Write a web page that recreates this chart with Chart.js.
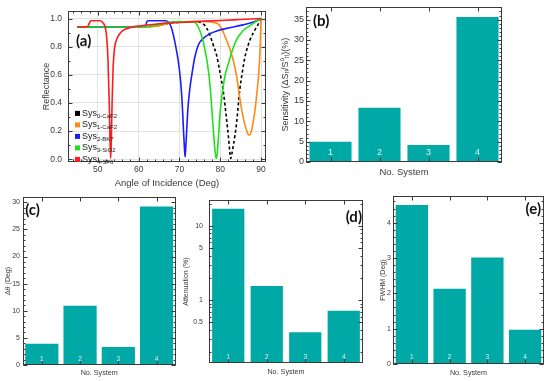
<!DOCTYPE html>
<html>
<head>
<meta charset="utf-8">
<script src="https://cdn.jsdelivr.net/npm/chart.js@4.4.1/dist/chart.umd.min.js"></script>
<style>
  html, body { margin: 0; padding: 0; background: #fff; }
  #page { position: relative; width: 550px; height: 381px; overflow: hidden; }
  #page canvas { position: absolute; }
</style>
</head>
<body>
<div id="page">
  <canvas id="chartA" width="280" height="192" style="left:0px;top:0px"></canvas>
  <canvas id="chartB" width="270" height="190" style="left:280px;top:0px"></canvas>
  <canvas id="chartC" width="185" height="191" style="left:0px;top:190px"></canvas>
  <canvas id="chartD" width="187" height="191" style="left:181px;top:190px"></canvas>
  <canvas id="chartE" width="182" height="191" style="left:368px;top:190px"></canvas>
</div>
<script>
// ---- data ----
const systems = ["1", "2", "3", "4"];
const sensitivity = [5.2, 13.6, 4.4, 35.9];
const deltaTheta = [4.1, 11.1, 3.5, 29.4];
const attenuation = [17.7, 1.6, 0.38, 0.74];
const fwhm = [4.53, 2.16, 3.04, 1.0];

const angleTicks = [50, 60, 70, 80, 90];
const reflTicks = [0, 0.2, 0.4, 0.6, 0.8, 1.0];
const sensTicks = [0, 5, 10, 15, 20, 25, 30, 35];
const thetaTicks = [0, 5, 10, 15, 20, 25, 30];
const attenTicks = [0.5, 1, 5, 10];
const fwhmTicks = [0, 1, 2, 3, 4];

const curveNames = ["0-CaF2", "1-CaF2", "2-BK7", "3-SiO2", "4-SF6"];

const sys0Angle = [45, 55, 62, 65, 68, 71, 74, 75.9, 76.7, 77.5, 78.3, 79.1, 79.9, 80.8, 81.4, 82.0, 82.3, 82.55, 82.85, 83.2, 83.6, 84.0, 84.8, 85.3, 86.0, 86.5, 87.3, 88.1, 88.9, 89.7, 90];
const sys0Refl = [0.94, 0.94, 0.942, 0.952, 0.968, 0.976, 0.977, 0.96, 0.93, 0.88, 0.81, 0.74, 0.62, 0.47, 0.32, 0.16, 0.06, 0.005, 0.04, 0.1, 0.17, 0.26, 0.5, 0.6, 0.72, 0.78, 0.85, 0.9, 0.94, 0.98, 1.0];

const sys1Angle = [45, 55, 62, 64.5, 66, 67.5, 69, 72, 76, 78.5, 79.5, 80.3, 81.2, 82.4, 83.2, 84.0, 84.6, 85.2, 85.9, 86.5, 86.9, 87.3, 87.7, 88.1, 88.6, 89.0, 89.4, 89.75, 90];
const sys1Refl = [0.94, 0.94, 0.94, 0.945, 0.955, 0.966, 0.974, 0.979, 0.979, 0.972, 0.96, 0.93, 0.87, 0.78, 0.70, 0.59, 0.47, 0.36, 0.26, 0.20, 0.172, 0.175, 0.21, 0.27, 0.37, 0.48, 0.6, 0.78, 1.0];

const sys2Angle = [45, 55, 60, 61.7, 61.95, 62.2, 66.5, 67.3, 68.1, 68.9, 69.7, 70.3, 70.7, 71.0, 71.22, 71.38, 71.54, 71.8, 72.1, 72.5, 73.0, 73.8, 74.6, 75.5, 77.5, 79.5, 81.5, 85.6, 88.1, 90];
const sys2Refl = [0.94, 0.94, 0.943, 0.947, 0.972, 0.984, 0.984, 0.975, 0.93, 0.83, 0.70, 0.55, 0.38, 0.2, 0.08, 0.016, 0.08, 0.22, 0.37, 0.49, 0.595, 0.73, 0.81, 0.85, 0.893, 0.915, 0.93, 0.955, 0.975, 1.0];

const sys3Angle = [45, 55, 60, 63, 65, 67, 70, 72, 73.8, 74.6, 75.5, 76.3, 76.9, 77.5, 78.0, 78.4, 78.75, 79.0, 79.3, 79.6, 79.95, 80.5, 81.2, 82.0, 82.8, 84.0, 85.6, 87.3, 88.5, 90];
const sys3Refl = [0.94, 0.94, 0.94, 0.945, 0.958, 0.972, 0.978, 0.977, 0.973, 0.94, 0.87, 0.77, 0.67, 0.52, 0.33, 0.17, 0.05, 0.005, 0.05, 0.18, 0.33, 0.47, 0.6, 0.68, 0.76, 0.85, 0.915, 0.95, 0.975, 1.0];

const sys4Angle = [45, 47.5, 47.9, 48.3, 50.5, 51.2, 51.8, 52.2, 52.5, 52.8, 53.0, 53.15, 53.3, 53.5, 53.75, 54.1, 54.6, 55.2, 56.2, 58.2, 61.5, 65, 70, 75, 80, 85, 90];
const sys4Refl = [0.94, 0.944, 0.965, 0.984, 0.984, 0.972, 0.94, 0.86, 0.7, 0.4, 0.12, 0.005, 0.12, 0.4, 0.65, 0.79, 0.85, 0.885, 0.916, 0.938, 0.952, 0.963, 0.972, 0.98, 0.986, 0.993, 1.0];

// ---- styles ----
const curveColors = ["#000000", "#ff8a14", "#1c1cff", "#1fe01f", "#ff1c1c"];
const barColor = "#00a8a6";
const textColor = "#3a3a3a";
const frameColor = "#3a3a3a";
const fontFamily = "'Liberation Sans', Arial, Helvetica, sans-serif";

Chart.defaults.font.family = fontFamily;
Chart.defaults.color = textColor;

function toPoints(xs, ys) {
  return xs.map((x, i) => ({ x: x, y: ys[i] }));
}

function steps(from, to, step) {
  const out = [];
  for (let v = from; v <= to + 1e-9; v += step) out.push(+v.toFixed(6));
  return out;
}

function logMinors(min, max) {
  const out = [];
  [0.1, 1, 10].forEach((d) => {
    for (let k = 2; k <= 9; k++) {
      const v = +(k * d).toFixed(6);
      if (v > min && v < max) out.push(v);
    }
  });
  return out;
}

// inward tick marks on all four sides plus the frame
const frameTicks = {
  id: "frameTicks",
  afterDatasetsDraw(chart, args, opts) {
    const { ctx, chartArea: a } = chart;
    const xs = chart.scales.x;
    const ys = chart.scales.y;
    const left = Math.round(a.left) + 0.5;
    const right = Math.round(a.right) - 0.5;
    const top = Math.round(a.top) + 0.5;
    const bottom = Math.round(a.bottom) - 0.5;
    ctx.save();
    ctx.strokeStyle = frameColor;
    ctx.lineWidth = 1;
    ctx.beginPath();
    const xMark = (v, len) => {
      const px = Math.round(xs.getPixelForValue(v)) + 0.5;
      ctx.moveTo(px, bottom);
      ctx.lineTo(px, bottom - len);
      ctx.moveTo(px, top);
      ctx.lineTo(px, top + len);
    };
    const yMark = (v, len) => {
      const py = Math.round(ys.getPixelForValue(v)) + 0.5;
      ctx.moveTo(left, py);
      ctx.lineTo(left + len, py);
      ctx.moveTo(right, py);
      ctx.lineTo(right - len, py);
    };
    (opts.xMajor || []).forEach((v) => xMark(v, opts.major));
    (opts.xMinor || []).forEach((v) => xMark(v, opts.minor));
    (opts.yMajor || []).forEach((v) => yMark(v, opts.major));
    (opts.yMinor || []).forEach((v) => yMark(v, opts.minor));
    ctx.stroke();
    ctx.strokeRect(left, top, right - left, bottom - top);
    ctx.restore();
  },
};

const panelLabel = {
  id: "panelLabel",
  afterDraw(chart, args, opts) {
    const { ctx, chartArea: a } = chart;
    ctx.save();
    ctx.font = "bold 15px Lato, 'Open Sans', sans-serif";
    ctx.fillStyle = "#111";
    ctx.textBaseline = "middle";
    ctx.textAlign = opts.align;
    const x = opts.align === "right" ? a.right - opts.dx : a.left + opts.dx;
    ctx.fillText(opts.text, x, a.top + opts.dy);
    ctx.restore();
  },
};

const barNumbers = {
  id: "barNumbers",
  afterDatasetsDraw(chart, args, opts) {
    const { ctx, chartArea: a } = chart;
    const meta = chart.getDatasetMeta(0);
    ctx.save();
    ctx.font = opts.size + "px " + fontFamily;
    ctx.fillStyle = "rgba(255,255,255,0.85)";
    ctx.textAlign = "center";
    ctx.textBaseline = "middle";
    meta.data.forEach((bar, i) => {
      ctx.fillText(chart.data.labels[i], bar.x, a.bottom - opts.offset);
    });
    ctx.restore();
  },
};

const sysLegend = {
  id: "sysLegend",
  afterDatasetsDraw(chart, args, opts) {
    const { ctx, chartArea: a } = chart;
    ctx.save();
    ctx.textBaseline = "middle";
    chart.data.datasets.forEach((ds, i) => {
      const x = a.left + opts.dx;
      const y = a.top + opts.dy + i * opts.gap;
      ctx.fillStyle = ds.borderColor;
      ctx.fillRect(x, y - 2.5, 5, 5);
      ctx.fillStyle = "#222";
      ctx.font = "9px " + fontFamily;
      ctx.fillText("Sys", x + 7, y);
      const w = ctx.measureText("Sys").width;
      ctx.font = "6px " + fontFamily;
      ctx.fillText(ds.label, x + 7 + w, y + 2.5);
    });
    ctx.restore();
  },
};

// ---- (a) reflectance curves ----
const curves = [
  [sys0Angle, sys0Refl],
  [sys1Angle, sys1Refl],
  [sys2Angle, sys2Refl],
  [sys3Angle, sys3Refl],
  [sys4Angle, sys4Refl],
];

new Chart(document.getElementById("chartA"), {
  type: "line",
  data: {
    datasets: curves.map((c, i) => ({
      label: curveNames[i],
      data: toPoints(c[0], c[1]),
      borderColor: curveColors[i],
      backgroundColor: curveColors[i],
      borderWidth: 1.6,
      borderDash: i === 0 ? [3, 2.5] : [],
      pointRadius: 0,
      cubicInterpolationMode: "monotone",
      fill: false,
      order: 4 - i,
    })),
  },
  options: {
    responsive: false,
    animation: false,
    layout: { padding: { top: 5, right: 14, left: 0, bottom: 0 } },
    plugins: {
      legend: { display: false },
      tooltip: { enabled: false },
      frameTicks: {
        xMajor: angleTicks,
        xMinor: steps(44, 90, 2),
        yMajor: reflTicks,
        yMinor: steps(0, 1, 0.1),
        major: 4,
        minor: 2,
      },
      panelLabel: { text: "(a)", align: "left", dx: 8, dy: 30 },
      sysLegend: { dx: 7, dy: 102.3, gap: 11.5 },
    },
    scales: {
      x: {
        type: "linear",
        min: 42.7,
        max: 91.2,
        afterBuildTicks: (s) => { s.ticks = angleTicks.map((v) => ({ value: v })); },
        grid: { color: "#e3e3e3", drawTicks: false },
        border: { display: false },
        ticks: { font: { size: 8.5 }, padding: 3, callback: (v) => String(v) },
        title: { display: true, text: "Angle of Incidence (Deg)", font: { size: 9.5 }, padding: { top: 0, bottom: 3.3 } },
        afterFit: (s) => { s.height = 30; },
      },
      y: {
        type: "linear",
        min: -0.02,
        max: 1.053,
        afterBuildTicks: (s) => { s.ticks = reflTicks.map((v) => ({ value: v })); },
        grid: { color: "#e3e3e3", drawTicks: false },
        border: { display: false },
        ticks: { font: { size: 8.5 }, padding: 6, callback: (v) => v.toFixed(1) },
        title: { display: true, text: "Reflectance", font: { size: 9 }, padding: { top: 41.6, bottom: 0 } },
        afterFit: (s) => { s.width = 68; },
      },
    },
  },
  plugins: [frameTicks, panelLabel, sysLegend],
});

// ---- (b)-(e) bar panels ----
function barChart(canvasId, values, cfg) {
  const isLog = cfg.yType === "logarithmic";
  return new Chart(document.getElementById(canvasId), {
    type: "bar",
    data: {
      labels: systems,
      datasets: [
        {
          data: values,
          backgroundColor: barColor,
          borderColor: "rgba(255,255,255,0.45)",
          borderWidth: 1,
          borderSkipped: "bottom",
          barPercentage: cfg.barPct,
          categoryPercentage: 1,
        },
      ],
    },
    options: {
      responsive: false,
      animation: false,
      layout: { padding: { top: cfg.padTop, right: cfg.padRight, left: 0, bottom: 0 } },
      plugins: {
        legend: { display: false },
        tooltip: { enabled: false },
        frameTicks: {
          xMajor: systems.map((s, i) => i),
          yMajor: cfg.ticks,
          yMinor: isLog ? logMinors(cfg.yMin, cfg.yMax) : steps(0, cfg.yMax, cfg.minorStep),
          major: 4,
          minor: 2,
        },
        panelLabel: cfg.label,
        barNumbers: { size: cfg.numSize, offset: cfg.numOffset },
      },
      scales: {
        x: {
          type: "category",
          grid: { display: false, drawTicks: false },
          border: { display: false },
          ticks: { display: false },
          title: { display: true, text: "No. System", font: { size: cfg.xTitleSize }, padding: { top: 0, bottom: cfg.xTitlePad } },
          afterFit: (s) => { s.height = cfg.xHeight; },
        },
        y: {
          type: cfg.yType || "linear",
          min: cfg.yMin,
          max: cfg.yMax,
          afterBuildTicks: (s) => { s.ticks = cfg.ticks.map((v) => ({ value: v })); },
          grid: { display: false, drawTicks: false },
          border: { display: false },
          ticks: { font: { size: cfg.tickSize }, padding: cfg.tickPad, callback: (v) => String(v) },
          title: { display: true, text: cfg.yTitle, font: { size: cfg.yTitleSize }, padding: { top: cfg.yTitlePad, bottom: 0 } },
          afterFit: (s) => { s.width = cfg.yWidth; },
        },
      },
    },
    plugins: [frameTicks, barNumbers, panelLabel],
  });
}

barChart("chartB", sensitivity, {
  yMin: 0, yMax: 38, ticks: sensTicks, minorStep: 1,
  padTop: 6, padRight: 48, yWidth: 26, xHeight: 28,
  tickSize: 9, tickPad: 2, yTitle: "Sensitivity (\u0394S\u1d63\u1d62/S\u2070\u1d63\u1d62)(%)", yTitleSize: 9, yTitlePad: 0.6,
  xTitleSize: 9.5, xTitlePad: 12.3, barPct: 0.9, numSize: 9, numOffset: 9,
  label: { text: "(b)", align: "left", dx: 7, dy: 14 },
});

barChart("chartC", deltaTheta, {
  yMin: 0, yMax: 31, ticks: thetaTicks, minorStep: 1,
  padTop: 5, padRight: 9.3, yWidth: 22.7, xHeight: 16,
  tickSize: 7, tickPad: 2.7, yTitle: "\u0394\u03b8 (Deg)", yTitleSize: 7, yTitlePad: 3.8,
  xTitleSize: 7.2, xTitlePad: 3.7, barPct: 0.92, numSize: 6.5, numOffset: 6,
  label: { text: "(c)", align: "left", dx: 2.5, dy: 13 },
});

barChart("chartD", attenuation, {
  yType: "logarithmic", yMin: 0.142, yMax: 22.3, ticks: attenTicks,
  padTop: 5, padRight: 5, yWidth: 28, xHeight: 18,
  tickSize: 7, tickPad: 6, yTitle: "Attenuation (%)", yTitleSize: 7, yTitlePad: 0.8,
  xTitleSize: 7.2, xTitlePad: 4.7, barPct: 0.89, numSize: 6.5, numOffset: 5.5,
  label: { text: "(d)", align: "right", dx: 1, dy: 17 },
});

barChart("chartE", fwhm, {
  yMin: 0, yMax: 4.75, ticks: fwhmTicks, minorStep: 0.2,
  padTop: 5, padRight: 6, yWidth: 25, xHeight: 17,
  tickSize: 7, tickPad: 2, yTitle: "FWHM (Deg)", yTitleSize: 7, yTitlePad: 10.8,
  xTitleSize: 7.2, xTitlePad: 4, barPct: 0.91, numSize: 6.5, numOffset: 6.3,
  label: { text: "(e)", align: "right", dx: 3, dy: 13 },
});
</script>
</body>
</html>
